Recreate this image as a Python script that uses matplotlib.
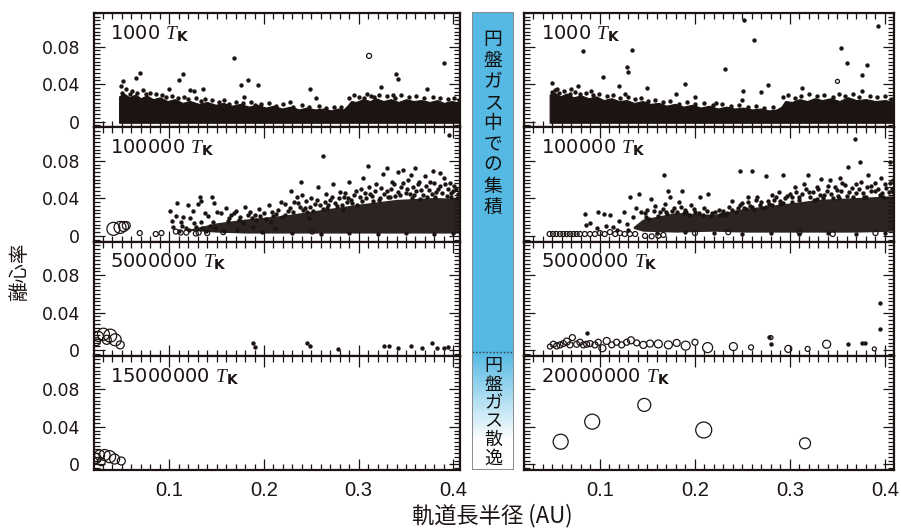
import numpy as np
import matplotlib.pyplot as plt
from matplotlib.ticker import MultipleLocator, FixedLocator, FuncFormatter
from matplotlib.patches import Rectangle

# ---------------- data ----------------
time_labels_left = ["1000", "100000", "5000000", "15000000"]
time_labels_right = ["1000", "100000", "5000000", "20000000"]

band_floor = -0.0012

# 1000 T_K, left: dense band envelope + scattered bodies
L1_band_x = [0.047, 0.052, 0.058, 0.064, 0.07, 0.076, 0.083, 0.09, 0.098, 0.106, 0.114, 0.122, 0.131, 0.14,
             0.149, 0.157, 0.166, 0.175, 0.184, 0.193, 0.202, 0.21, 0.219, 0.228, 0.237, 0.245, 0.254, 0.263,
             0.271, 0.278, 0.284, 0.288, 0.292, 0.297, 0.305, 0.312, 0.318, 0.326, 0.334, 0.342, 0.35, 0.358,
             0.366, 0.375, 0.383, 0.39, 0.398, 0.408]
L1_band_hi = [0.027, 0.030, 0.026, 0.029, 0.025, 0.028, 0.024, 0.026, 0.022, 0.024, 0.020, 0.022, 0.019, 0.021,
              0.018, 0.020, 0.017, 0.019, 0.016, 0.018, 0.015, 0.017, 0.014, 0.016, 0.013, 0.015, 0.013, 0.014,
              0.012, 0.014, 0.013, 0.017, 0.022, 0.021, 0.024, 0.022, 0.025, 0.022, 0.024, 0.021, 0.024, 0.022,
              0.023, 0.021, 0.023, 0.020, 0.022, 0.020]
L1_dots = [(0.168, 0.0677), (0.39, 0.063), (0.0686, 0.0524), (0.0649, 0.0463), (0.0516, 0.0435),
           (0.0488, 0.038), (0.115, 0.051), (0.110, 0.0446), (0.1836, 0.0446), (0.176, 0.0389),
           (0.194, 0.0389), (0.179, 0.0267), (0.249, 0.0346), (0.255, 0.0253), (0.227, 0.021),
           (0.3395, 0.051), (0.342, 0.046), (0.324, 0.0367), (0.372, 0.0346), (0.0997, 0.0346),
           (0.122, 0.034), (0.126, 0.0324), (0.136, 0.0346), (0.306, 0.025), (0.313, 0.027), (0.336, 0.0285),
           (0.05, 0.031), (0.054, 0.035), (0.058, 0.029), (0.061, 0.033), (0.066, 0.031), (0.072, 0.034),
           (0.075, 0.029), (0.08, 0.031), (0.086, 0.029), (0.092, 0.028), (0.097, 0.026), (0.103, 0.027),
           (0.109, 0.025), (0.116, 0.026), (0.12, 0.024), (0.128, 0.025), (0.133, 0.022), (0.138, 0.024),
           (0.145, 0.023), (0.152, 0.021), (0.158, 0.023), (0.163, 0.019), (0.17, 0.021), (0.178, 0.02),
           (0.186, 0.021), (0.19, 0.018), (0.197, 0.019), (0.205, 0.02), (0.213, 0.017), (0.22, 0.019),
           (0.231, 0.016), (0.24, 0.018), (0.248, 0.016), (0.258, 0.017), (0.266, 0.015), (0.274, 0.016),
           (0.281, 0.016), (0.29, 0.025), (0.295, 0.028), (0.3, 0.026), (0.309, 0.029), (0.316, 0.026),
           (0.321, 0.028), (0.33, 0.027), (0.338, 0.025), (0.345, 0.028), (0.353, 0.026), (0.361, 0.027),
           (0.369, 0.025), (0.378, 0.026), (0.386, 0.025), (0.394, 0.024), (0.401, 0.025), (0.406, 0.023)]
L1_open = [(0.311, 0.0702, 5)]

# 1000 T_K, right
R1_band_x = [0.047, 0.052, 0.058, 0.065, 0.072, 0.08, 0.088, 0.096, 0.104, 0.112, 0.12, 0.128, 0.136, 0.145,
             0.153, 0.162, 0.17, 0.179, 0.188, 0.197, 0.206, 0.215, 0.224, 0.233, 0.242, 0.251, 0.26, 0.269,
             0.278, 0.286, 0.291, 0.295, 0.302, 0.31, 0.318, 0.326, 0.334, 0.343, 0.352, 0.361, 0.37, 0.38,
             0.39, 0.4, 0.41]
R1_band_hi = [0.029, 0.031, 0.027, 0.030, 0.026, 0.028, 0.025, 0.027, 0.023, 0.025, 0.022, 0.023, 0.020, 0.022,
              0.019, 0.020, 0.017, 0.019, 0.016, 0.018, 0.015, 0.017, 0.014, 0.016, 0.014, 0.015, 0.013, 0.014,
              0.012, 0.013, 0.016, 0.022, 0.021, 0.024, 0.022, 0.025, 0.023, 0.025, 0.022, 0.026, 0.023, 0.024,
              0.022, 0.023, 0.021]
R1_dots = [(0.0824, 0.0756), (0.134, 0.0766), (0.262, 0.0873), (0.252, 0.1087), (0.393, 0.1016),
           (0.354, 0.0784), (0.360, 0.0624), (0.381, 0.0606), (0.376, 0.0499), (0.130, 0.0535),
           (0.128, 0.058), (0.103, 0.0478), (0.050, 0.041), (0.077, 0.038), (0.055, 0.0346),
           (0.069, 0.0346), (0.091, 0.0328), (0.12, 0.038), (0.126, 0.029), (0.150, 0.0357),
           (0.180, 0.0296), (0.190, 0.040), (0.200, 0.026), (0.232, 0.056), (0.251, 0.0328),
           (0.249, 0.023), (0.269, 0.0317), (0.277, 0.0396), (0.313, 0.0364), (0.376, 0.0328), (0.222, 0.020),
           (0.049, 0.032), (0.053, 0.034), (0.057, 0.031), (0.062, 0.033), (0.068, 0.03), (0.074, 0.032),
           (0.079, 0.029), (0.085, 0.031), (0.093, 0.028), (0.099, 0.029), (0.107, 0.027), (0.114, 0.028),
           (0.121, 0.025), (0.13, 0.026), (0.137, 0.024), (0.143, 0.025), (0.151, 0.022), (0.158, 0.023),
           (0.166, 0.021), (0.174, 0.022), (0.183, 0.019), (0.192, 0.021), (0.2, 0.019), (0.209, 0.02),
           (0.219, 0.018), (0.228, 0.019), (0.238, 0.017), (0.246, 0.018), (0.256, 0.016), (0.264, 0.017),
           (0.273, 0.015), (0.282, 0.016), (0.293, 0.026), (0.298, 0.028), (0.305, 0.025), (0.312, 0.027),
           (0.32, 0.029), (0.328, 0.027), (0.336, 0.028), (0.345, 0.026), (0.352, 0.029), (0.358, 0.027),
           (0.366, 0.029), (0.373, 0.026), (0.384, 0.027), (0.392, 0.026), (0.4, 0.027), (0.406, 0.024)]
R1_open = [(0.35, 0.043, 4)]

# 100000 T_K, left: dense core + scattered bodies
L2_core_x = [0.12, 0.15, 0.18, 0.22, 0.26, 0.30, 0.34, 0.38, 0.408]
L2_core_lo = [0.006, 0.004, 0.003, 0.003, 0.003, 0.003, 0.003, 0.003, 0.003]
L2_core_hi = [0.007, 0.014, 0.018, 0.022, 0.028, 0.034, 0.039, 0.041, 0.040]
L2_dots = [(0.101, 0.027), (0.108, 0.035), (0.107, 0.021), (0.112, 0.015), (0.115, 0.020), (0.12, 0.033),
           (0.122, 0.019), (0.126, 0.014), (0.13, 0.034), (0.132, 0.041), (0.133, 0.037), (0.145, 0.041),
           (0.147, 0.035), (0.138, 0.024), (0.141, 0.021), (0.146, 0.015), (0.118, 0.008), (0.128, 0.010),
           (0.135, 0.008), (0.104, 0.010), (0.11, 0.005), (0.143, 0.011), (0.15, 0.026), (0.125, 0.027),
           (0.155, 0.024), (0.16, 0.030), (0.165, 0.022), (0.17, 0.027), (0.175, 0.020), (0.18, 0.031),
           (0.185, 0.025), (0.19, 0.022), (0.195, 0.029), (0.2, 0.024), (0.205, 0.033), (0.21, 0.021),
           (0.215, 0.028), (0.218, 0.036), (0.162, 0.016), (0.178, 0.014), (0.192, 0.017), (0.207, 0.015),
           (0.212, 0.008), (0.172, 0.006), (0.198, 0.004), (0.188, 0.009), (0.158, 0.005),
           (0.225, 0.027), (0.229, 0.048), (0.232, 0.036), (0.238, 0.031), (0.24, 0.044), (0.245, 0.025),
           (0.25, 0.040), (0.254, 0.034), (0.257, 0.052), (0.262, 0.029), (0.265, 0.045), (0.27, 0.038),
           (0.273, 0.055), (0.277, 0.032), (0.28, 0.047), (0.285, 0.041), (0.288, 0.036), (0.29, 0.058),
           (0.295, 0.044), (0.298, 0.033), (0.2626, 0.0858), (0.235, 0.041), (0.248, 0.019), (0.283, 0.028),
           (0.239, 0.058), (0.302, 0.05), (0.305, 0.062), (0.31, 0.075), (0.312, 0.045), (0.318, 0.055),
           (0.322, 0.04), (0.326, 0.066), (0.33, 0.048), (0.335, 0.058), (0.338, 0.043), (0.342, 0.068),
           (0.345, 0.052), (0.35, 0.046), (0.352, 0.06), (0.356, 0.040), (0.36, 0.072), (0.363, 0.055),
           (0.366, 0.049), (0.37, 0.064), (0.372, 0.042), (0.375, 0.058), (0.378, 0.069), (0.382, 0.047),
           (0.386, 0.053), (0.39, 0.062), (0.393, 0.043), (0.396, 0.057), (0.4, 0.048), (0.403, 0.05),
           (0.3955, 0.108), (0.347, 0.07), (0.33, 0.072), (0.355, 0.065), (0.386, 0.067), (0.404, 0.04),
           (0.365, 0.039), (0.315, 0.037), (0.23, 0.003), (0.26, 0.002), (0.29, 0.003), (0.32, 0.002),
           (0.35, 0.003), (0.38, 0.002), (0.4, 0.003), (0.222, 0.022), (0.243, 0.03), (0.268, 0.033),
           (0.292, 0.038), (0.308, 0.04), (0.333, 0.042), (0.358, 0.044), (0.381, 0.042), (0.398, 0.041),
           (0.163, 0.019), (0.168, 0.024), (0.174, 0.017), (0.183, 0.022), (0.187, 0.019), (0.196, 0.021),
           (0.202, 0.018), (0.208, 0.026), (0.213, 0.023), (0.219, 0.02), (0.222, 0.034), (0.227, 0.03),
           (0.231, 0.026), (0.236, 0.035), (0.241, 0.028), (0.244, 0.037), (0.249, 0.031), (0.252, 0.027),
           (0.256, 0.038), (0.259, 0.033), (0.264, 0.036), (0.267, 0.03), (0.272, 0.042), (0.275, 0.035),
           (0.279, 0.04), (0.282, 0.033), (0.286, 0.046), (0.289, 0.04), (0.293, 0.035), (0.297, 0.048),
           (0.301, 0.041), (0.304, 0.037), (0.307, 0.046), (0.311, 0.052), (0.314, 0.043), (0.317, 0.048),
           (0.321, 0.038), (0.324, 0.051), (0.327, 0.045), (0.331, 0.041), (0.334, 0.05), (0.337, 0.055),
           (0.341, 0.047), (0.344, 0.044), (0.347, 0.056), (0.351, 0.05), (0.354, 0.045), (0.357, 0.052),
           (0.361, 0.048), (0.364, 0.058), (0.368, 0.044), (0.371, 0.053), (0.374, 0.049), (0.377, 0.045),
           (0.38, 0.056), (0.384, 0.05), (0.388, 0.046), (0.391, 0.055), (0.394, 0.05), (0.398, 0.046),
           (0.401, 0.053), (0.405, 0.045), (0.103, 0.016), (0.113, 0.011), (0.121, 0.006), (0.134, 0.015),
           (0.139, 0.005), (0.148, 0.008)]
L2_open = [(0.041, 0.0075, 13), (0.048, 0.009, 12), (0.0518, 0.010, 10), (0.0546, 0.011, 8),
           (0.0688, 0.003, 5), (0.0857, 0.002, 5), (0.0917, 0.003, 5), (0.107, 0.0046, 5),
           (0.112, 0.0035, 5), (0.118, 0.0035, 5), (0.128, 0.0025, 5), (0.131, 0.0035, 5),
           (0.140, 0.003, 5), (0.157, 0.004, 5), (0.251, 0.0046, 5)]

# 100000 T_K, right
R2_core_x = [0.135, 0.145, 0.18, 0.22, 0.25, 0.29, 0.33, 0.37, 0.41]
R2_core_lo = [0.008, 0.005, 0.004, 0.005, 0.004, 0.004, 0.004, 0.004, 0.005]
R2_core_hi = [0.010, 0.018, 0.025, 0.023, 0.029, 0.034, 0.039, 0.041, 0.043]
R2_dots = [(0.0842, 0.023), (0.0974, 0.025), (0.104, 0.023), (0.111, 0.0225), (0.085, 0.012), (0.09, 0.0135),
           (0.097, 0.008), (0.106, 0.011), (0.114, 0.009), (0.125, 0.025), (0.132, 0.042), (0.141, 0.0446),
           (0.12, 0.016), (0.128, 0.013), (0.135, 0.02), (0.138, 0.03), (0.143, 0.026), (0.118, 0.006),
           (0.13, 0.006), (0.167, 0.0645), (0.154, 0.0396), (0.172, 0.0474), (0.186, 0.048), (0.174, 0.042),
           (0.205, 0.041), (0.214, 0.0446), (0.239, 0.0374), (0.256, 0.042), (0.265, 0.042), (0.281, 0.0438),
           (0.288, 0.047), (0.15, 0.028), (0.158, 0.032), (0.163, 0.025), (0.168, 0.034), (0.178, 0.03),
           (0.183, 0.036), (0.19, 0.028), (0.196, 0.033), (0.2, 0.026), (0.21, 0.03), (0.218, 0.024),
           (0.225, 0.028), (0.232, 0.022), (0.236, 0.031), (0.245, 0.03), (0.25, 0.035), (0.258, 0.032),
           (0.262, 0.028), (0.27, 0.036), (0.275, 0.031), (0.283, 0.038), (0.29, 0.034), (0.295, 0.04),
           (0.3684, 0.1037), (0.374, 0.0784), (0.361, 0.074), (0.405, 0.079), (0.247, 0.0688), (0.26, 0.0695),
           (0.275, 0.0635), (0.293, 0.0645), (0.319, 0.065), (0.333, 0.061), (0.342, 0.06), (0.382, 0.065),
           (0.396, 0.0617), (0.353, 0.0617), (0.3, 0.045), (0.305, 0.052), (0.31, 0.041), (0.315, 0.055),
           (0.32, 0.047), (0.325, 0.038), (0.33, 0.05), (0.336, 0.044), (0.34, 0.053), (0.345, 0.04),
           (0.35, 0.049), (0.355, 0.056), (0.36, 0.043), (0.365, 0.051), (0.37, 0.046), (0.375, 0.058),
           (0.38, 0.041), (0.385, 0.053), (0.39, 0.048), (0.395, 0.044), (0.4, 0.055), (0.404, 0.047),
           (0.407, 0.05), (0.408, 0.06), (0.16, 0.003), (0.19, 0.004), (0.22, 0.003), (0.25, 0.002),
           (0.28, 0.003), (0.31, 0.002), (0.34, 0.003), (0.37, 0.002), (0.4, 0.003), (0.148, 0.02),
           (0.17, 0.026), (0.188, 0.024), (0.228, 0.023), (0.254, 0.029), (0.278, 0.034), (0.302, 0.036),
           (0.328, 0.039), (0.352, 0.04), (0.378, 0.041), (0.398, 0.042),
           (0.147, 0.024), (0.152, 0.018), (0.157, 0.027), (0.161, 0.021), (0.166, 0.029), (0.171, 0.023),
           (0.176, 0.027), (0.181, 0.025), (0.185, 0.031), (0.191, 0.026), (0.194, 0.022), (0.199, 0.029),
           (0.204, 0.024), (0.208, 0.022), (0.213, 0.027), (0.217, 0.021), (0.221, 0.026), (0.226, 0.022),
           (0.23, 0.027), (0.234, 0.024), (0.239, 0.028), (0.243, 0.025), (0.247, 0.033), (0.252, 0.03),
           (0.256, 0.036), (0.26, 0.031), (0.264, 0.038), (0.268, 0.033), (0.272, 0.03), (0.277, 0.037),
           (0.281, 0.033), (0.285, 0.041), (0.289, 0.037), (0.293, 0.035), (0.297, 0.043), (0.302, 0.041),
           (0.306, 0.047), (0.309, 0.038), (0.313, 0.045), (0.317, 0.05), (0.321, 0.042), (0.324, 0.047),
           (0.328, 0.052), (0.332, 0.044), (0.335, 0.04), (0.339, 0.048), (0.343, 0.045), (0.347, 0.052),
           (0.351, 0.043), (0.354, 0.048), (0.358, 0.054), (0.362, 0.047), (0.366, 0.042), (0.369, 0.055),
           (0.373, 0.05), (0.377, 0.046), (0.381, 0.052), (0.385, 0.048), (0.389, 0.057), (0.393, 0.05),
           (0.397, 0.046), (0.401, 0.051), (0.405, 0.056), (0.408, 0.047)]
R2_open = [(0.047, 0.002, 5), (0.0505, 0.002, 5), (0.054, 0.002, 5), (0.0579, 0.002, 5), (0.0614, 0.002, 5),
           (0.065, 0.002, 5), (0.0684, 0.002, 5), (0.072, 0.002, 5), (0.0754, 0.002, 5), (0.079, 0.002, 5),
           (0.084, 0.002, 5), (0.0895, 0.002, 5), (0.0947, 0.002, 5), (0.1, 0.003, 5), (0.105, 0.002, 5),
           (0.1105, 0.004, 5), (0.116, 0.002, 5), (0.121, 0.003, 5), (0.126, 0.002, 5), (0.1316, 0.002, 5),
           (0.137, 0.002, 5), (0.1474, 0.000, 5), (0.1544, -0.0005, 5), (0.1614, 0.000, 5), (0.1667, 0.001, 5),
           (0.2, 0.003, 5), (0.235, 0.004, 5), (0.31, 0.004, 5), (0.345, 0.002, 5), (0.39, 0.003, 5)]

# 5000000 T_K
L3_dots = [(0.188, 0.0073), (0.191, 0.0038), (0.245, 0.0073), (0.249, 0.0048), (0.278, 0.001), (0.327, 0.004),
           (0.332, 0.004), (0.342, 0.0027), (0.355, 0.0048), (0.367, 0.0027), (0.377, 0.0073), (0.383, 0.0027),
           (0.39, 0.0027), (0.394, 0.0038)]
L3_open = [(0.0252, 0.0145, 10), (0.0305, 0.017, 12), (0.0376, 0.0155, 13), (0.0429, 0.011, 12),
           (0.0482, 0.0056, 8), (0.023, 0.009, 8), (0.034, 0.011, 9)]
R3_dots = [(0.0868, 0.018), (0.278, 0.0145), (0.280, 0.0063), (0.376, 0.0073), (0.379, 0.0077),
           (0.395, 0.05), (0.395, 0.0227), (0.361, 0.007)]
R3_open = [(0.0473, 0.0038, 5), (0.0509, 0.0063, 6), (0.0544, 0.0045, 6), (0.0579, 0.0056, 6),
           (0.0614, 0.007, 6), (0.065, 0.0091, 7), (0.0684, 0.0056, 6), (0.0709, 0.0134, 6),
           (0.0754, 0.0063, 6), (0.0789, 0.0084, 6), (0.0825, 0.0056, 6), (0.086, 0.0063, 6),
           (0.0895, 0.007, 6), (0.0947, 0.0056, 6), (0.0982, 0.0084, 6), (0.1025, 0.002, 7),
           (0.107, 0.0098, 7), (0.1123, 0.0056, 6), (0.1175, 0.0084, 6), (0.1228, 0.0056, 6),
           (0.128, 0.0084, 6), (0.1326, 0.0105, 7), (0.1386, 0.0077, 6), (0.1456, 0.0056, 7),
           (0.1526, 0.007, 7), (0.1614, 0.0066, 8), (0.172, 0.0056, 8), (0.1807, 0.0077, 7),
           (0.1902, 0.0048, 9), (0.2, 0.0084, 6), (0.2133, 0.0027, 10), (0.2404, 0.0038, 8),
           (0.259, 0.003, 5), (0.28, 0.0134, 4), (0.2982, 0.0013, 7), (0.3186, 0.0013, 5),
           (0.3386, 0.0063, 8), (0.3888, 0.0013, 4)]

# 15000000 / 20000000 T_K
L4_open = [(0.0228, 0.0064, 10), (0.0264, 0.010, 10), (0.0317, 0.010, 11), (0.037, 0.0082, 12),
           (0.0423, 0.0057, 10), (0.0493, 0.0036, 8), (0.0282, 0.0029, 8)]
R4_open = [(0.0586, 0.0242, 15), (0.0918, 0.0456, 15), (0.1466, 0.0635, 13), (0.2092, 0.0367, 16),
           (0.3158, 0.0225, 11)]

x_ticks = [0.1, 0.2, 0.3, 0.4]
y_ticks = [0, 0.04, 0.08]

# ---------------- style ----------------
ink = '#1c1412'
bar_blue = '#55b9e3'
cjk = 'Noto Sans CJK JP'

plt.rcParams['font.family'] = ['DejaVu Sans']
plt.rcParams['mathtext.fontset'] = 'custom'
plt.rcParams['mathtext.it'] = 'Liberation Serif:italic'
plt.rcParams['mathtext.bf'] = 'DejaVu Sans:bold'
plt.rcParams['xtick.minor.visible'] = True
plt.rcParams['ytick.minor.visible'] = True

fig = plt.figure(figsize=(9.01, 5.28), dpi=100)
W, H = 901.0, 528.0
top_px, panel_px = 13.0, 114.25
cols = [(94.0, 366.0, (0.0205, 0.407)), (524.0, 370.0, (0.020, 0.4095))]


def fmt_y(v, pos):
    return '0' if abs(v) < 1e-9 else '%.2f' % v


def draw_panel(ax, band, core, dots, opens, label):
    if band is not None:
        ax.fill_between(band[0], band_floor, band[1], color=ink, linewidth=0.8, edgecolor=ink)
    if core is not None:
        ax.fill_between(core[0], core[1], core[2], color='#2c2422', linewidth=0)
    if dots:
        dx, dy = zip(*dots)
        ax.scatter(dx, dy, s=10, color=ink, linewidths=0, zorder=3)
    if opens:
        ox, oy, od = zip(*opens)
        sizes = [(d * 0.72) ** 2 for d in od]
        ax.scatter(ox, oy, s=sizes, facecolors='none', edgecolors=ink, linewidths=0.9, zorder=4)
    ax.text(0.045, 0.91, label + r' $\mathit{T}_{\mathbf{K}}$', transform=ax.transAxes,
            ha='left', va='top', fontsize=14, color=ink)


panels = [
    [(L1_band_x, L1_band_hi), None, L1_dots, L1_open],
    [None, (L2_core_x, L2_core_lo, L2_core_hi), L2_dots, L2_open],
    [None, None, L3_dots, L3_open],
    [None, None, [], L4_open],
]
panels_r = [
    [(R1_band_x, R1_band_hi), None, R1_dots, R1_open],
    [None, (R2_core_x, R2_core_lo, R2_core_hi), R2_dots, R2_open],
    [None, None, R3_dots, R3_open],
    [None, None, [], R4_open],
]

for c, (x0, w, xlim) in enumerate(cols):
    plist = panels if c == 0 else panels_r
    labels = time_labels_left if c == 0 else time_labels_right
    for k in range(4):
        bottom = 1 - (top_px + panel_px * (k + 1)) / H
        ax = fig.add_axes([x0 / W, bottom, w / W, panel_px / H])
        band, core, dots, opens = plist[k]
        draw_panel(ax, band, core, dots, opens, labels[k])
        ax.set_xlim(*xlim)
        ax.set_ylim(-0.006, 0.116)
        ax.xaxis.set_major_locator(FixedLocator(x_ticks))
        ax.xaxis.set_minor_locator(MultipleLocator(0.01))
        ax.yaxis.set_major_locator(FixedLocator(y_ticks))
        ax.yaxis.set_minor_locator(MultipleLocator(0.004))
        ax.yaxis.set_major_formatter(FuncFormatter(fmt_y))
        ax.tick_params(which='both', direction='in', top=True, right=True, bottom=True, left=True,
                       color=ink, width=0.9)
        ax.tick_params(which='major', length=8)
        ax.tick_params(which='minor', length=4.5)
        ax.tick_params(axis='y', which='major', labelsize=12.5, pad=10, labelcolor=ink, labelleft=(c == 0))
        ax.tick_params(axis='x', which='major', labelbottom=(k == 3), pad=8, labelcolor=ink)
        if k == 3:
            for t in ax.get_xticklabels():
                t.set_fontfamily('Liberation Sans')
                t.set_fontsize(14.5)
        for s in ax.spines.values():
            s.set_linewidth(1.6)
            s.set_color(ink)

# middle bar
bax = fig.add_axes([472 / W, 1 - 470 / H, 42 / W, 458 / H])
bax.axis('off')
bax.add_patch(Rectangle((0, 12), 1, 340, facecolor=bar_blue, edgecolor='none'))
grad = np.ones((200, 2, 3))
blue_rgb = np.array([0x55, 0xb9, 0xe3]) / 255.0
t = np.clip(np.linspace(0, 1, 200) / 0.75, 0, 1)[:, None]
grad[:, :, :] = (blue_rgb * (1 - t) + np.ones(3) * t)[:, None, :]
bax.imshow(grad, extent=[0, 1, 470, 352], aspect='auto', zorder=1)
bax.plot([0, 1], [352, 352], linestyle=(0, (1, 1.5)), color='#333333', linewidth=1.0, zorder=3)
bax.add_patch(Rectangle((0, 12), 1, 458, facecolor='none', edgecolor='#8a8a8a', linewidth=1.4, zorder=4))
bax.set_xlim(0, 1)
bax.set_ylim(470, 12)

top_text = "円盤ガス中での集積"
for i, ch in enumerate(top_text):
    bax.text(0.5, 40 + i * 20.9, ch, ha='center', va='center', fontsize=13.5, family=cjk, color='#111111')
bot_text = "円盤ガス散逸"
for i, ch in enumerate(bot_text):
    bax.text(0.5, 366 + i * 18.6, ch, ha='center', va='center', fontsize=13, family=cjk, color='#111111')

fig.text(20 / W, 1 - 272 / H, '離心率', rotation=90, ha='center', va='center', fontsize=14, family=cjk, color=ink)
fig.text(492 / W, 1 - 516 / H, '軌道長半径 (AU)', ha='center', va='center', fontsize=16, family=cjk, color=ink)

fig.savefig('out.png', dpi=100)
